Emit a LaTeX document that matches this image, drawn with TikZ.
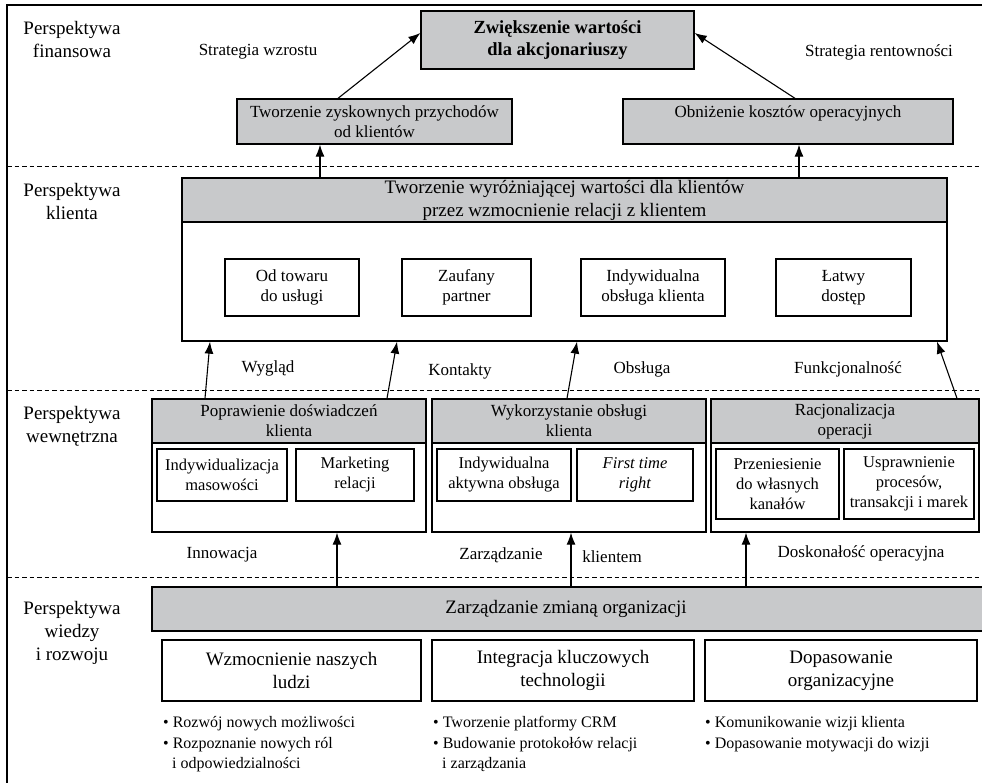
\documentclass[tikz,border=0pt]{standalone}
\usepackage{fontspec}
\setmainfont{Liberation Serif}
\usetikzlibrary{arrows.meta}
\definecolor{boxgray}{RGB}{200,201,203}
\newcommand\fsA{\fontsize{19}{23}\selectfont}
\newcommand\fsB{\fontsize{17}{20}\selectfont}
\newcommand\fsS{\fontsize{16.5}{20}\selectfont}
\newcommand\fsC{\fontsize{16}{18}\selectfont}
\newcommand\fsT{\bfseries\fontsize{18.5}{22}\selectfont}
\tikzset{
  bx/.style={draw, line width=1.3pt, inner sep=0pt, align=center, font=\fsB, fill=white},
  gbx/.style={bx, fill=boxgray},
  arr/.style={line width=1.1pt, -{Latex[length=12pt,width=9pt]}},
  sep/.style={dash pattern=on 4.5pt off 3pt, line width=1pt},
  persp/.style={align=center, font=\fsA, inner sep=0pt},
  lbl/.style={font=\fsB, inner sep=0pt},
  bul/.style={font=\fsC, inner sep=0pt, anchor=west},
}
% name, style, x1, y1, x2, y2, text
\newcommand\mkbox[7]{\node[#2, minimum width={#5-#3}, minimum height={#6-#4}] (#1) at ({(#3+#5)/2},{(#4+#6)/2}) {#7};}
\begin{document}
\begin{tikzpicture}[x=1pt,y=-1pt]
\clip (0,0) rectangle (982,783);
\fill[white] (0,0) rectangle (982,783);
% frame
\draw[line width=2.5pt] (7,800) -- (7,5) -- (1000,5);
% separators
\draw[sep] (7,167) -- (990,167);
\draw[sep] (7,390) -- (990,390);
\draw[sep] (7,577) -- (990,577);

% perspective labels
\node[persp] (p1) at (72,40) {Perspektywa\\finansowa};
\node[persp] (p2) at (72,202) {Perspektywa\\klienta};
\node[persp] (p3) at (72,426) {Perspektywa\\wewnętrzna};
\node[persp] (p4) at (72,633) {Perspektywa\\wiedzy\\i rozwoju};

% financial
\mkbox{top}{gbx,font=\fsT}{421}{11}{694}{69}{Zwiększenie wartości\\dla akcjonariuszy}
\mkbox{tworz}{gbx}{237}{99}{512}{144}{Tworzenie zyskownych przychodów\\od klientów}
\mkbox{obniz}{gbx}{623}{99}{953}{144}{Obniżenie kosztów operacyjnych\\\mbox{}}
\node[lbl] (sw) at (258,52) {Strategia wzrostu};
\node[lbl] (sr) at (879,52) {Strategia rentowności};

% client
\mkbox{kbox}{bx}{182}{178}{947}{341}{}
\mkbox{khead}{gbx,font=\fsA}{182}{178}{947}{222}{Tworzenie wyróżniającej wartości dla klientów\\przez wzmocnienie relacji z klientem}
\mkbox{k1}{bx}{225}{259}{359}{316}{Od towaru\\do usługi}
\mkbox{k2}{bx}{402}{259}{531}{316}{Zaufany\\partner}
\mkbox{k3}{bx}{581}{259}{725}{316}{Indywidualna\\obsługa klienta}
\mkbox{k4}{bx}{776}{259}{911}{316}{Łatwy\\dostęp}

% internal
\mkbox{abox}{bx}{152}{399}{426}{532}{}
\mkbox{ahead}{gbx}{152}{399}{426}{443}{Poprawienie doświadczeń\\klienta}
\mkbox{a1}{bx,font=\fsS}{157}{449}{287}{501}{Indywidualizacja\\masowości}
\mkbox{a2}{bx,font=\fsS}{296}{449}{414}{501}{Marketing\\relacji}
\mkbox{bbox}{bx}{432}{399}{706}{532}{}
\mkbox{bhead}{gbx}{432}{399}{706}{443}{Wykorzystanie obsługi\\klienta}
\mkbox{b1}{bx,font=\fsS}{437}{449}{571}{501}{Indywidualna\\aktywna obsługa}
\mkbox{b2}{bx,font=\fsS}{577}{449}{693}{501}{\textit{First time}\\\textit{right}}
\mkbox{cbox}{bx}{711}{399}{979}{532}{}
\mkbox{chead}{gbx}{711}{399}{979}{443}{Racjonalizacja\\operacji}
\mkbox{c1}{bx,font=\fsS}{716}{449}{839}{519}{Przeniesienie\\do własnych\\kanałów}
\mkbox{c2}{bx,font=\fsS}{844}{449}{974}{519}{Usprawnienie\\procesów,\\transakcji i marek}

% learning
\mkbox{bar}{gbx,font=\fsA}{152}{587}{1000}{631}{}
\node[font=\fsA, inner sep=0pt] (bartext) at (566,609) {Zarządzanie zmianą organizacji};
\mkbox{l1}{bx,font=\fsA}{162}{640}{421}{701}{Wzmocnienie naszych\\ludzi}
\mkbox{l2}{bx,font=\fsA}{432}{640}{694}{701}{Integracja kluczowych\\technologii}
\mkbox{l3}{bx,font=\fsA}{705}{640}{977}{701}{Dopasowanie\\organizacyjne}

% bullets
\node[bul] (u1) at (163,724) {\textbullet\ Rozwój nowych możliwości};
\node[bul] (u2) at (163,745) {\textbullet\ Rozpoznanie nowych ról};
\node[bul] (u3) at (172,765) {i odpowiedzialności};
\node[bul] (v1) at (433,724) {\textbullet\ Tworzenie platformy CRM};
\node[bul] (v2) at (433,745) {\textbullet\ Budowanie protokołów relacji};
\node[bul] (v3) at (442,765) {i zarządzania};
\node[bul] (w1) at (705,724) {\textbullet\ Komunikowanie wizji klienta};
\node[bul] (w2) at (705,745) {\textbullet\ Dopasowanie motywacji do wizji};

% connector labels
\node[lbl] (lw) at (268,368) {Wygląd};
\node[lbl] (lk) at (460,371) {Kontakty};
\node[lbl] (lo) at (642,369) {Obsługa};
\node[lbl] (lf) at (848,369) {Funkcjonalność};
\node[lbl] (li) at (222,555) {Innowacja};
\node[lbl] (lz) at (501,555) {Zarządzanie};
\node[lbl] (lkl) at (612,557) {klientem};
\node[lbl] (ld) at (861,553) {Doskonałość operacyjna};

% x positions for connectors
\coordinate (xa) at (338,0);
\coordinate (xb) at (795,0);
\coordinate (xc) at (320,0);
\coordinate (xd) at (799,0);
\coordinate (s1) at (205,0);
\coordinate (e1) at (210,0);
\coordinate (s2) at (387,0);
\coordinate (e2) at (397,0);
\coordinate (s3) at (567,0);
\coordinate (e3) at (577,0);
\coordinate (s4) at (957,0);
\coordinate (e4) at (937,0);
\coordinate (g1) at (337,0);
\coordinate (g2) at (571,0);
\coordinate (g3) at (746,0);

% connectors
\draw[arr] (tworz.north -| xa) -- ([yshift=7pt]top.west);
\draw[arr] (obniz.north -| xb) -- ([yshift=7pt]top.east);
\draw[arr] (kbox.north -| xc) -- (tworz.south -| xc);
\draw[arr] (kbox.north -| xd) -- (obniz.south -| xd);
\draw[arr] (ahead.north -| s1) -- (kbox.south -| e1);
\draw[arr] (ahead.north -| s2) -- (kbox.south -| e2);
\draw[arr] (bhead.north -| s3) -- (kbox.south -| e3);
\draw[arr] (chead.north -| s4) -- (kbox.south -| e4);
\draw[arr] (bar.north -| g1) -- (abox.south -| g1);
\draw[arr] (bar.north -| g2) -- (bbox.south -| g2);
\draw[arr] (bar.north -| g3) -- (cbox.south -| g3);
\end{tikzpicture}
\end{document}
